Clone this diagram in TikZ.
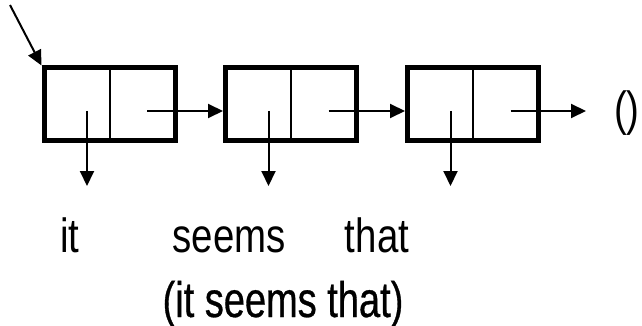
\documentclass[tikz,border=0pt]{standalone}
\usepackage{fontspec}
\usetikzlibrary{arrows.meta}
\newfontfamily\lbl{Liberation Sans}[FakeStretch=0.8]
\newfontfamily\capfont{Liberation Sans}[FakeStretch=0.76,FakeBold=0.6]
\tikzset{
  cons/.style={draw, line width=5pt, minimum width=131pt, minimum height=72pt, inner sep=0pt},
  ptr/.style={line width=2pt, -{Triangle[length=15pt,width=14pt]}},
  word/.style={font=\lbl\fontsize{48}{48}\selectfont, anchor=base, inner sep=0pt},
}
\begin{document}
\begin{tikzpicture}[x=1pt,y=-1pt]
  \useasboundingbox (0,0) rectangle (642,326);
  % three cons cells
  \foreach \i/\cx in {1/109.5, 2/291, 3/473} {
    \node[cons] (b\i) at (\cx,104) {};
    \draw[line width=2pt] (b\i.north) -- (b\i.south);
    \coordinate (car\i) at (\cx-22.5,111);
    \coordinate (cdr\i) at (\cx+37.5,111);
    \coordinate (dn\i) at (\cx-22.5,186);
  }
  % pointer into the list
  \coordinate (head) at (10,5);
  \draw[ptr] (head) -- (b1.north west);
  % cdr links
  \draw[ptr] (cdr1) -- (b2.west |- cdr1);
  \draw[ptr] (cdr2) -- (b3.west |- cdr2);
  \coordinate (nilend) at (586,111);
  \draw[ptr] (cdr3) -- (nilend);
  \node[font=\lbl\fontsize{48}{48}\selectfont, anchor=west, inner sep=0pt] (nil) at (614,113) {()};
  % car links
  \foreach \i in {1,2,3} \draw[ptr] (car\i) -- (dn\i);
  % words
  \node[word] (w1) at (70,252) {it};
  \node[word] (w2) at (229,252) {seems};
  \node[word] (w3) at (377,252) {that};
  \node[font=\capfont\fontsize{50}{50}\selectfont, anchor=base, inner sep=0pt] (phrase) at (283,317) {(it seems that)};
\end{tikzpicture}
\end{document}
